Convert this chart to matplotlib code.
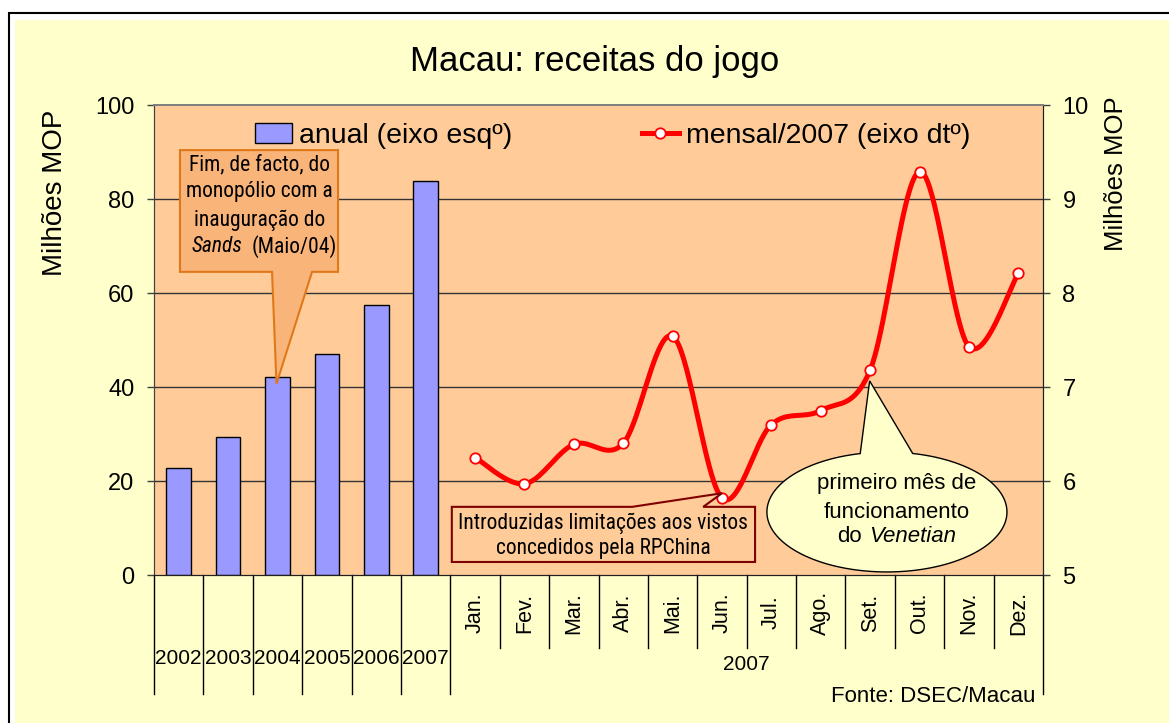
import numpy as np
import matplotlib
matplotlib.use("Agg")
import matplotlib.pyplot as plt
from matplotlib.patches import Rectangle, Polygon
from matplotlib.lines import Line2D
from matplotlib import font_manager

# data
years = ["2002", "2003", "2004", "2005", "2006", "2007"]
annual = [22.8, 29.4, 42.2, 47.0, 57.4, 83.8]          # left axis
months = ["Jan.", "Fev.", "Mar.", "Abr.", "Mai.", "Jun.",
          "Jul.", "Ago.", "Set.", "Out.", "Nov.", "Dez."]
monthly = [6.25, 5.97, 6.39, 6.40, 7.54, 5.82,
           6.60, 6.75, 7.18, 9.29, 7.43, 8.21]         # right axis
month_group = "2007"

W, H = 1169, 723
YELLOW = "#FFFFCC"
PLOT_BG = "#FFCC99"
BAR = "#9999FF"

plt.rcParams["font.family"] = ["Liberation Sans", "DejaVu Sans"]
names = {f.name for f in font_manager.fontManager.ttflist}
narrow = next((f for f in ["Liberation Sans Narrow", "Roboto Condensed"] if f in names),
              "Liberation Sans")


def smooth(xs, ys, n=40):
    # excel style smoothed line (bezier through the points)
    p = np.column_stack([xs, ys]).astype(float)
    out = []
    for i in range(len(p) - 1):
        p0 = p[i - 1] if i > 0 else p[i]
        p1, p2 = p[i], p[i + 1]
        p3 = p[i + 2] if i + 2 < len(p) else p[i + 1]
        c1 = p1 + (p2 - p0) / 6
        c2 = p2 - (p3 - p1) / 6
        t = np.linspace(0, 1, n)[:, None]
        seg = (1 - t) ** 3 * p1 + 3 * (1 - t) ** 2 * t * c1 + 3 * (1 - t) * t ** 2 * c2 + t ** 3 * p2
        out.append(seg if i == 0 else seg[1:])
    return np.vstack(out)


fig = plt.figure(figsize=(W / 100, H / 100), dpi=100, facecolor="white")
fig.patches.append(Rectangle((15 / W, -0.1), 2, 1.1 - 20 / H, transform=fig.transFigure,
                             facecolor=YELLOW, edgecolor="none", zorder=-10))
fig.patches.append(Rectangle((9 / W, -0.1), 2, 1.1 - 13.3 / H, transform=fig.transFigure,
                             facecolor="none", edgecolor="black", lw=1.5, zorder=-9))

ax = fig.add_axes([154 / W, 1 - 575 / H, 889 / W, 470 / H])
ax.set_facecolor(PLOT_BG)
ax2 = ax.twinx()

n_cat = len(years) + len(months)
ax.set_xlim(0, n_cat)
ax.set_ylim(0, 100)
ax2.set_ylim(5, 10)

x_years = np.arange(len(years)) + 0.5
x_months = np.arange(len(months)) + len(years) + 0.5

ax.bar(x_years, annual, width=0.5, color=BAR, edgecolor="black", lw=1, zorder=3)

curve = smooth(x_months, monthly)
ax2.plot(curve[:, 0], curve[:, 1], color="red", lw=3.6, zorder=3, solid_capstyle="round")
ax2.plot(x_months, monthly, ls="none", marker="o", ms=7.5, mfc="white", mec="red",
         mew=1.3, zorder=4)

# grid, spines, ticks
ax.set_yticks([0, 20, 40, 60, 80, 100])
ax2.set_yticks([5, 6, 7, 8, 9, 10])
for v in [20, 40, 60, 80]:
    ax.axhline(v, color="#333333", lw=1, zorder=1)
ax.set_xticks([])
ax2.set_xticks([])
for a in (ax, ax2):
    a.spines["top"].set_color("#808080")
    a.spines["top"].set_linewidth(1.3)
    a.spines["left"].set_color("#404040")
    a.spines["right"].set_color("#202020")
    a.spines["bottom"].set_color("#202020")
ax.tick_params(axis="y", direction="out", length=5, width=1, color="#404040",
               labelsize=17, pad=9)
ax2.tick_params(axis="y", direction="out", length=5, width=1, color="#404040",
                labelsize=17, pad=9)

# multi level category axis
tr = ax.get_xaxis_transform()
for i in range(len(years) + 1):
    ax.add_line(Line2D([i, i], [0, -0.253], transform=tr, color="black", lw=1, clip_on=False))
ax.add_line(Line2D([n_cat, n_cat], [0, -0.253], transform=tr, color="black", lw=1, clip_on=False))
for i in range(len(years) + 1, n_cat):
    ax.add_line(Line2D([i, i], [0, -0.155], transform=tr, color="black", lw=1, clip_on=False))
for x, m in zip(x_months, months):
    ax.text(x, -0.08, m, transform=tr, rotation=90, ha="center", va="center", fontsize=15.5)
for x, y in zip(x_years, years):
    ax.text(x, -0.177, y, transform=tr, ha="center", va="center", fontsize=15)
ax.text((len(years) + n_cat) / 2, -0.19, month_group, transform=tr, ha="center",
        va="center", fontsize=15)

# titles and labels
fig.text(595 / W, 1 - 62 / H, "Macau: receitas do jogo", ha="center", va="center", fontsize=25)
fig.text(55 / W, 1 - 193 / H, "Milhões MOP", rotation=90, ha="center", va="center", fontsize=20)
fig.text(1116 / W, 1 - 174 / H, "Milhões MOP", rotation=90, ha="center", va="center", fontsize=18.5)
fig.text(1035 / W, 1 - 697 / H, "Fonte: DSEC/Macau", ha="right", va="center", fontsize=16)

# legend
handles = [Rectangle((0, 0), 1, 1, facecolor=BAR, edgecolor="black", lw=1),
           Line2D([], [], color="red", lw=3.6, marker="o", ms=7.5, mfc="white", mec="red", mew=1.3)]
ax2.legend(handles, ["anual (eixo esqº)", "mensal/2007 (eixo dtº)"], ncol=2, loc="center",
           bbox_to_anchor=(0.516, 0.934), frameon=False, fontsize=20.5, handlelength=1.3,
           handletextpad=0.25, columnspacing=4.55, borderaxespad=0)

# callouts (left-axis data coordinates)
T = ax.transData


def to_left(v):
    return (v - 5) * 20


# 1: Sands
x0, x1, y0, y1 = 0.526, 3.726, 64.5, 90.4
tip = (x_years[2] - 0.02, annual[2] - 1.5)
poly = [(x0, y1), (x1, y1), (x1, y0), (3.2, y0), tip, (2.39, y0), (x0, y0)]
ax2.add_patch(Polygon(poly, closed=True, transform=T, facecolor="#F9B47A",
                      edgecolor="#E07818", lw=1.5, zorder=6))
for yy, s in [(87.2, "Fim, de facto, do"), (81.5, "monopólio com a"), (75.5, "inauguração do")]:
    ax2.text(2.13, yy, s, transform=T, ha="center", va="center", fontsize=15.5,
             family=[narrow, "DejaVu Sans"], zorder=7)
ax2.text(1.78, 69.8, "Sands", transform=T, ha="right", va="center", fontsize=15.5,
         family=[narrow, "DejaVu Sans"], style="italic", zorder=7)
ax2.text(1.98, 69.8, "(Maio/04)", transform=T, ha="left", va="center", fontsize=15.5,
         family=[narrow, "DejaVu Sans"], zorder=7)

# 2: vistos
x0, x1, y0, y1 = 6.03, 12.17, 2.77, 14.5
tip = (x_months[5], to_left(monthly[5]) + 1)
poly = [(x0, y0), (x1, y0), (x1, y1), (11.12, y1), tip, (9.68, y1), (x0, y1)]
ax2.add_patch(Polygon(poly, closed=True, transform=T, facecolor=PLOT_BG,
                      edgecolor="#7F0000", lw=1.5, zorder=6))
ax2.text(9.09, 11.06, "Introduzidas limitações aos vistos", transform=T, ha="center",
         va="center", fontsize=15.5, family=[narrow, "DejaVu Sans"], zorder=7)
ax2.text(9.09, 5.74, "concedidos pela RPChina", transform=T, ha="center",
         va="center", fontsize=15.5, family=[narrow, "DejaVu Sans"], zorder=7)

# 3: Venetian (ellipse)
cx, cy, ea, eb = 14.84, 13.4, 2.43, 12.75
t = np.linspace(0, 2 * np.pi, 400)
ex, ey = cx + ea * np.cos(t), cy + eb * np.sin(t)
inside = np.where((ey > cy) & (ex > 14.3) & (ex < 15.34))[0]
tip = (x_months[8] - 0.01, to_left(monthly[8]) - 2.3)
pts = list(zip(ex[:inside[0]], ey[:inside[0]])) + [tip] + list(zip(ex[inside[-1] + 1:], ey[inside[-1] + 1:]))
ax2.add_patch(Polygon(pts, closed=True, transform=T, facecolor=YELLOW,
                      edgecolor="black", lw=1, zorder=6))
ax2.text(15.04, 19.4, "primeiro mês de", transform=T, ha="center", va="center",
         fontsize=16, zorder=7)
ax2.text(15.04, 13.4, "funcionamento", transform=T, ha="center", va="center",
         fontsize=16, zorder=7)
ax2.text(14.33, 8.1, "do", transform=T, ha="right", va="center", fontsize=16, zorder=7)
ax2.text(14.48, 8.1, "Venetian", transform=T, ha="left", va="center", fontsize=16,
         style="italic", zorder=7)

fig.savefig("out.png", dpi=100, facecolor="white")
